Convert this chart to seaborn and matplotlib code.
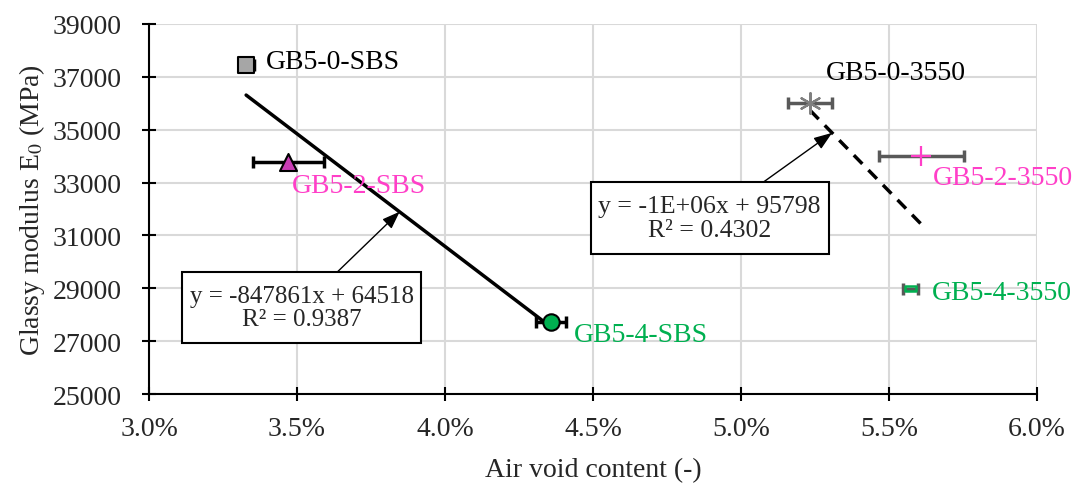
import numpy as np
import pandas as pd
import matplotlib
matplotlib.use("Agg")
import matplotlib.pyplot as plt
from matplotlib.path import Path
from matplotlib.ticker import PercentFormatter
import seaborn as sns

# mixtures
names = ["GB5-0-SBS", "GB5-2-SBS", "GB5-4-SBS", "GB5-0-3550", "GB5-2-3550", "GB5-4-3550"]
binder = ["SBS", "SBS", "SBS", "3550", "3550", "3550"]
air_void = [0.03328, 0.03470, 0.04359, 0.05234, 0.05610, 0.05573]
air_void_err = [0.00025, 0.0012, 0.0005, 0.00075, 0.00145, 0.00027]
modulus = [37440, 33790, 27710, 36010, 34000, 28980]
eq_sbs = "y = -847861x + 64518\nR² = 0.9387"
eq_3550 = "y = -1E+06x + 95798\nR² = 0.4302"

df = pd.DataFrame({"name": names, "binder": binder, "x": air_void,
                   "xerr": air_void_err, "E0": modulus})

sns.set_style("white")
plt.rcParams["font.family"] = ["Liberation Serif", "DejaVu Serif"]
plt.rcParams["mathtext.fontset"] = "stix"

fig = plt.figure(figsize=(10.88, 4.89), dpi=100)
ax = fig.add_axes([0.137, 0.192, 0.816, 0.757])

green = "#00B050"
pink = "#FF3FC8"
rect = Path([(-1, -0.45), (1, -0.45), (1, 0.45), (-1, 0.45), (-1, -0.45)],
            [Path.MOVETO, Path.LINETO, Path.LINETO, Path.LINETO, Path.CLOSEPOLY])

styles = {
    "GB5-0-SBS": dict(marker="s", color="#A6A6A6", ec="black", s=120, lw=1.5, ebc="black", tc="black", off=(20, 4)),
    "GB5-2-SBS": dict(marker="^", color="#C83CB4", ec="black", s=150, lw=1.5, ebc="black", tc=pink, off=(4, -24)),
    "GB5-4-SBS": dict(marker="o", color=green, ec="black", s=140, lw=1.5, ebc="black", tc=green, off=(23, -12)),
    "GB5-0-3550": dict(marker=(6, 2, 0), color="#808080", ec="#808080", s=220, lw=1.6, ebc="#595959", tc="black", off=(16, 30)),
    "GB5-2-3550": dict(marker="+", color=pink, ec=pink, s=200, lw=1.6, ebc="#595959", tc=pink, off=(11, -21)),
    "GB5-4-3550": dict(marker=rect, color="none", ec=green, s=60, lw=1.8, ebc="#595959", tc=green, off=(21, -4)),
}

# trend lines
sbs = df[df.binder == "SBS"]
b3550 = df[df.binder == "3550"]
sns.regplot(data=sbs, x="x", y="E0", scatter=False, ci=None, truncate=True,
            color="black", line_kws=dict(lw=2.5), ax=ax)
sns.regplot(data=b3550, x="x", y="E0", scatter=False, ci=None, truncate=True,
            color="black", line_kws=dict(lw=2.5, ls=(0, (3.5, 2.5))), ax=ax)

for _, r in df.iterrows():
    st = styles[r["name"]]
    ax.errorbar(r.x, r.E0, xerr=r.xerr, fmt="none", ecolor=st["ebc"],
                elinewidth=2.5, capsize=4, capthick=2.5, zorder=3)
    if st["marker"] in ("+", (6, 2, 0)):
        sns.scatterplot(x=[r.x], y=[r.E0], marker=st["marker"], color=st["color"],
                        s=st["s"], linewidth=st["lw"], ax=ax, zorder=4)
    else:
        sns.scatterplot(x=[r.x], y=[r.E0], marker=st["marker"], color=st["color"],
                        edgecolor=st["ec"], s=st["s"], linewidth=st["lw"], ax=ax, zorder=4)
    ax.annotate(r["name"], xy=(r.x, r.E0), xytext=st["off"], textcoords="offset pixels",
                ha="left", va="center", fontsize=20, color=st["tc"])


# excel-like label box: narrow side padding, taller top/bottom padding
def label_box(x0, y0, width, height, mutation_size):
    px, py = 0.3 * mutation_size, 0.5 * mutation_size
    x0, y0 = x0 - px, y0 - py
    x1, y1 = x0 + width + 2 * px, y0 + height + 2 * py
    return Path([(x0, y0), (x1, y0), (x1, y1), (x0, y1), (x0, y0)], closed=True)


box = dict(boxstyle=label_box, fc="white", ec="black", lw=1.5)
arrow = dict(arrowstyle="-|>,head_length=0.6,head_width=0.22", color="black",
             lw=1, shrinkA=0, shrinkB=0)
ax.annotate(eq_sbs, xy=(0.03847, 64518 - 847861 * 0.03847), xytext=(0.03516, 28273),
            ha="center", va="center", fontsize=18, linespacing=1.1,
            multialignment="center", bbox=box,
            arrowprops=dict(arrow, relpos=(0.6, 1.0)), zorder=5)
p = np.polyfit(b3550.x, b3550.E0, 1)
ax.annotate(eq_3550, xy=(0.05308, np.polyval(p, 0.05308)), xytext=(0.04894, 31660),
            ha="center", va="center", fontsize=18.5, linespacing=1.1,
            multialignment="center", bbox=box,
            arrowprops=dict(arrow, relpos=(0.66, 1.0)), zorder=5)

ax.set_xlim(0.03, 0.06)
ax.set_ylim(25000, 39000)
ax.set_xticks(np.arange(0.03, 0.0601, 0.005))
ax.set_yticks(np.arange(25000, 39001, 2000))
ax.xaxis.set_major_formatter(PercentFormatter(xmax=1, decimals=1))
ax.grid(True, color="#D9D9D9", lw=1.5)
ax.set_axisbelow(True)
for s in ["top", "right"]:
    ax.spines[s].set_visible(False)
for s in ["left", "bottom"]:
    ax.spines[s].set_color("black")
    ax.spines[s].set_linewidth(1.5)
ax.tick_params(axis="both", bottom=True, left=True, direction="inout", length=10,
               width=1.5, color="black", labelsize=20)
ax.tick_params(axis="y", pad=15)
ax.tick_params(axis="x", pad=11)
ax.set_xlabel("Air void content (-)", fontsize=20, labelpad=11)
ax.set_ylabel("Glassy modulus E$_0$ (MPa)", fontsize=20, labelpad=4)

fig.savefig("out.png", dpi=100)
